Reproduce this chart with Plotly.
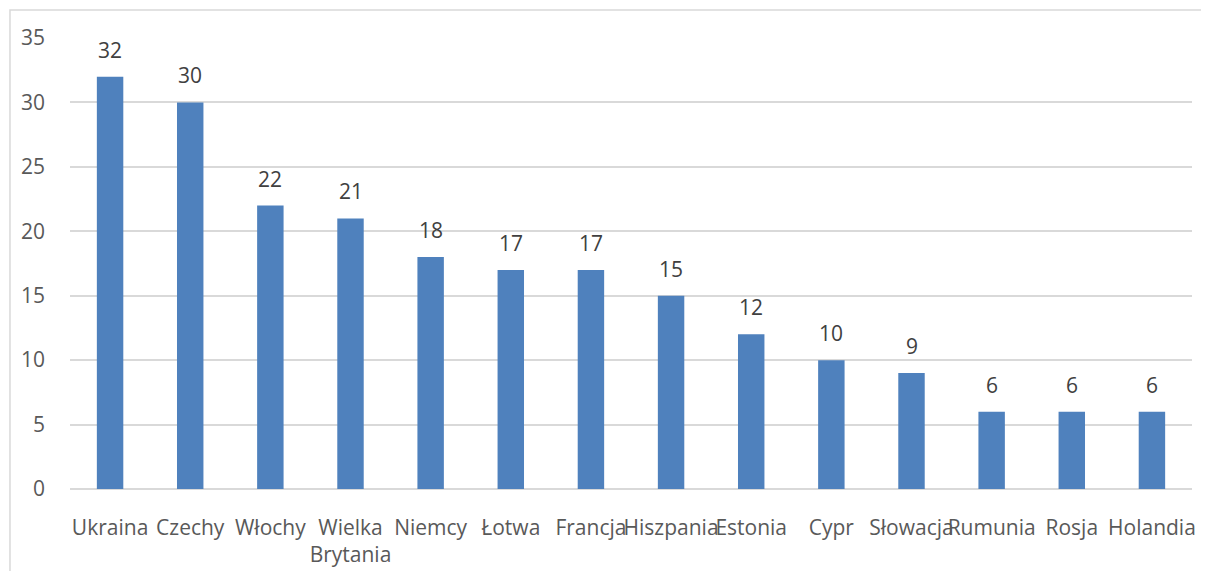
import plotly.graph_objects as go

# kraje i liczba wskazań
kraje = ["Ukraina", "Czechy", "Włochy", "Wielka<br>Brytania", "Niemcy", "Łotwa",
         "Francja", "Hiszpania", "Estonia", "Cypr", "Słowacja", "Rumunia", "Rosja", "Holandia"]
wartosci = [32, 30, 22, 21, 18, 17, 17, 15, 12, 10, 9, 6, 6, 6]
y_ticks = [0, 5, 10, 15, 20, 25, 30, 35]

fig = go.Figure()
fig.add_trace(go.Bar(
    x=kraje,
    y=wartosci,
    marker=dict(color="#4f81bd", line=dict(width=0)),
    width=0.33,
))

# etykiety danych nad słupkami
for k, v in zip(kraje, wartosci):
    fig.add_annotation(
        x=k, y=v, text=str(v), showarrow=False,
        yanchor="middle", yshift=27,
        font=dict(family="Open Sans", size=21, color="#404040"),
    )

# ramka wykresu (wychodzi poza kadr po prawej i na dole)
fig.add_shape(
    type="rect", xref="paper", yref="paper",
    x0=-0.0535, x1=1.2, y0=-0.4, y1=1.062,
    line=dict(color="#d9d9d9", width=1.5), fillcolor="rgba(0,0,0,0)",
    layer="below",
)

fig.update_layout(
    width=1201,
    height=563,
    margin=dict(l=62, r=17, t=30, b=82),
    paper_bgcolor="white",
    plot_bgcolor="white",
    showlegend=False,
    font=dict(family="Open Sans", size=21, color="#595959"),
    xaxis=dict(
        automargin=False,
        showgrid=False,
        showline=False,
        ticks="",
        ticklabelstandoff=24,
        tickangle=0,
    ),
    yaxis=dict(
        automargin=False,
        range=[0, 35],
        tickvals=y_ticks,
        showgrid=True,
        gridcolor="#d9d9d9",
        gridwidth=1.5,
        zeroline=True,
        zerolinecolor="#d9d9d9",
        zerolinewidth=1.5,
        showline=False,
        ticks="",
        ticklabelstandoff=24,
    ),
)

fig.write_html("out.html")
